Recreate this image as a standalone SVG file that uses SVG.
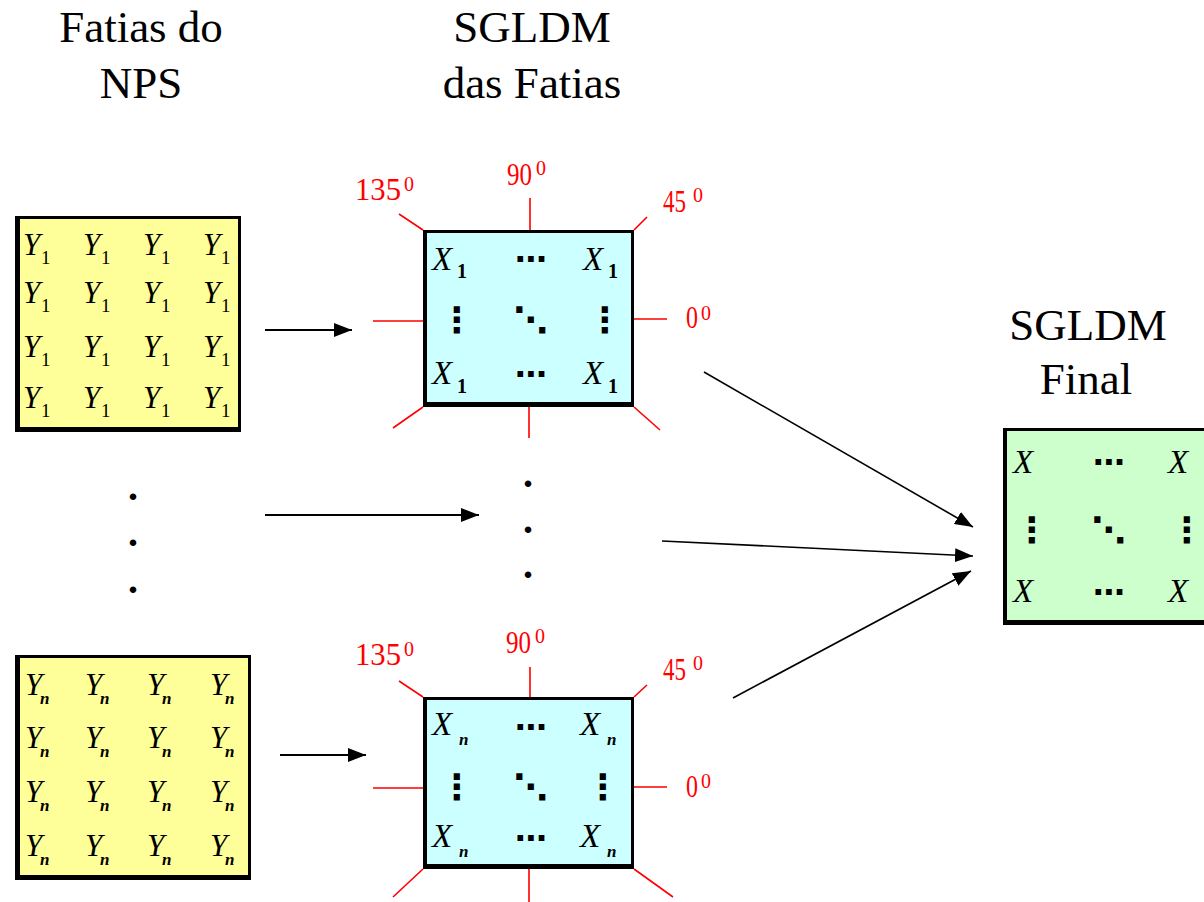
<svg xmlns="http://www.w3.org/2000/svg" width="1204" height="902" viewBox="0 0 1204 902">
<style>
.title{font-family:"Liberation Serif","Times New Roman",serif;font-size:45px;fill:#000;text-anchor:middle}
.ang{font-family:"Liberation Serif","Times New Roman",serif;font-size:31px;fill:#ff0000}
.sup{font-family:"Liberation Serif","Times New Roman",serif;font-size:20px;fill:#ff0000}
.var{font-family:"Liberation Serif","Times New Roman",serif;font-style:italic;fill:#000}
.y{font-size:31px}
.x{font-size:33px}
.sub{font-family:"Liberation Serif","Times New Roman",serif;font-size:19px;fill:#000}
.subx{font-family:"Liberation Serif","Times New Roman",serif;font-size:20px;font-weight:bold;fill:#000}
.subn{font-family:"Liberation Serif","Times New Roman",serif;font-style:italic;font-size:17px;font-weight:bold;fill:#000}
.dots{font-family:"DejaVu Sans",sans-serif;font-size:32px;font-weight:bold;fill:#000;text-anchor:middle}
.vd{font-family:"DejaVu Sans",sans-serif;font-size:35px;font-weight:bold;fill:#000;text-anchor:middle}
.pt{font-family:"Liberation Serif","Times New Roman",serif;font-size:40px;font-weight:bold;fill:#000;text-anchor:middle}
.red{stroke:#ff0000;stroke-width:1.6;fill:none}
.edge{stroke:#000;stroke-width:2;fill:none}
.frame{stroke:#000;stroke-width:3}
</style>
<defs>
<marker id="ah" markerUnits="userSpaceOnUse" markerWidth="20" markerHeight="16" refX="18" refY="7" orient="auto">
<path d="M0,0 L18,7 L0,14 z" fill="#000"/>
</marker>
</defs>
<rect width="1204" height="902" fill="#fff"/>

<g id="titles">
<text class="title" x="141" y="42">Fatias do</text>
<text class="title" x="141" y="98">NPS</text>
<text class="title" x="532" y="42">SGLDM</text>
<text class="title" x="532" y="98">das Fatias</text>
<text class="title" x="1088" y="340">SGLDM</text>
<text class="title" x="1086" y="394">Final</text>
</g>

<g id="slice1">
<rect x="16.5" y="217.5" width="223" height="213" fill="#ffff99" class="frame"/>
<rect x="15" y="216" width="5" height="216" fill="#000"/>
<rect x="15" y="427" width="226" height="5" fill="#000"/>
<g class="var y">
<text x="23" y="255">Y</text><text x="83" y="255">Y</text><text x="143" y="255">Y</text><text x="203" y="255">Y</text>
<text x="23" y="303">Y</text><text x="83" y="303">Y</text><text x="143" y="303">Y</text><text x="203" y="303">Y</text>
<text x="23" y="357">Y</text><text x="83" y="357">Y</text><text x="143" y="357">Y</text><text x="203" y="357">Y</text>
<text x="23" y="408">Y</text><text x="83" y="408">Y</text><text x="143" y="408">Y</text><text x="203" y="408">Y</text>
</g>
<g class="sub">
<text x="41" y="264">1</text><text x="101" y="264">1</text><text x="161" y="264">1</text><text x="221" y="264">1</text>
<text x="41" y="312">1</text><text x="101" y="312">1</text><text x="161" y="312">1</text><text x="221" y="312">1</text>
<text x="41" y="366">1</text><text x="101" y="366">1</text><text x="161" y="366">1</text><text x="221" y="366">1</text>
<text x="41" y="417">1</text><text x="101" y="417">1</text><text x="161" y="417">1</text><text x="221" y="417">1</text>
</g>
</g>

<g id="slice-dots">
<text class="pt" x="133" y="500">.</text>
<text class="pt" x="133" y="546">.</text>
<text class="pt" x="133" y="593">.</text>
</g>

<g id="sliceN">
<rect x="16.5" y="656.5" width="233" height="222" fill="#ffff99" class="frame"/>
<rect x="15" y="655" width="5" height="225" fill="#000"/>
<rect x="15" y="875" width="236" height="5" fill="#000"/>
<g class="var y">
<text x="25" y="695">Y</text><text x="85" y="695">Y</text><text x="147" y="695">Y</text><text x="210" y="695">Y</text>
<text x="25" y="748">Y</text><text x="85" y="748">Y</text><text x="147" y="748">Y</text><text x="210" y="748">Y</text>
<text x="25" y="802">Y</text><text x="85" y="802">Y</text><text x="147" y="802">Y</text><text x="210" y="802">Y</text>
<text x="25" y="856">Y</text><text x="85" y="856">Y</text><text x="147" y="856">Y</text><text x="210" y="856">Y</text>
</g>
<g class="subn">
<text x="40" y="704">n</text><text x="100" y="704">n</text><text x="162" y="704">n</text><text x="225" y="704">n</text>
<text x="40" y="757">n</text><text x="100" y="757">n</text><text x="162" y="757">n</text><text x="225" y="757">n</text>
<text x="40" y="811">n</text><text x="100" y="811">n</text><text x="162" y="811">n</text><text x="225" y="811">n</text>
<text x="40" y="865">n</text><text x="100" y="865">n</text><text x="162" y="865">n</text><text x="225" y="865">n</text>
</g>
</g>

<g id="sgldm1">
<path class="red" d="M530,198 V230 M634,319 H667 M373,321 H423 M399,214 L423,230 M634,230 L647,217 M423,407 L393,428 M529,407 V438 M634,407 L660,430"/>
<text class="ang" x="355" y="200" textLength="46" lengthAdjust="spacingAndGlyphs">135</text><text class="sup" x="404" y="191">0</text>
<text class="ang" x="507" y="185" textLength="25" lengthAdjust="spacingAndGlyphs">90</text><text class="sup" x="536" y="175">0</text>
<text class="ang" x="663" y="212" textLength="23" lengthAdjust="spacingAndGlyphs">45</text><text class="sup" x="693" y="202">0</text>
<text class="ang" x="686" y="328" textLength="12" lengthAdjust="spacingAndGlyphs">0</text><text class="sup" x="701" y="320">0</text>
<rect x="424.5" y="231.5" width="208" height="174" fill="#ccffff" class="frame" stroke-width="2"/>
<rect x="423" y="230" width="4" height="177" fill="#000"/>
<rect x="423" y="402" width="211" height="5" fill="#000"/>
<text class="var x" x="432" y="270">X</text><text class="subx" x="457" y="278">1</text>
<text class="var x" x="583" y="270">X</text><text class="subx" x="608" y="278">1</text>
<text class="var x" x="432" y="384">X</text><text class="subx" x="457" y="393">1</text>
<text class="var x" x="583" y="384">X</text><text class="subx" x="608" y="393">1</text>
<text class="dots" x="531" y="270">⋯</text>
<text class="dots" x="531" y="385">⋯</text>
<text class="vd" x="457" y="332">⋮</text>
<text class="vd" x="531" y="332">⋱</text>
<text class="vd" x="605" y="332">⋮</text>
</g>

<g id="sgldm-dots">
<text class="pt" x="528" y="487">.</text>
<text class="pt" x="528" y="533">.</text>
<text class="pt" x="528" y="578">.</text>
</g>

<g id="sgldmN">
<path class="red" d="M530,667 V697 M634,787 H667 M373,788 H423 M399,681 L423,697 M634,697 L647,685 M423,869 L393,897 M529,869 V902 M634,869 L673,897"/>
<text class="ang" x="355" y="665" textLength="46" lengthAdjust="spacingAndGlyphs">135</text><text class="sup" x="404" y="656">0</text>
<text class="ang" x="506" y="653" textLength="25" lengthAdjust="spacingAndGlyphs">90</text><text class="sup" x="535" y="643">0</text>
<text class="ang" x="663" y="680" textLength="23" lengthAdjust="spacingAndGlyphs">45</text><text class="sup" x="693" y="670">0</text>
<text class="ang" x="686" y="797" textLength="12" lengthAdjust="spacingAndGlyphs">0</text><text class="sup" x="701" y="788">0</text>
<rect x="424.5" y="698.5" width="208" height="169" fill="#ccffff" class="frame" stroke-width="2"/>
<rect x="423" y="697" width="4" height="172" fill="#000"/>
<rect x="423" y="864" width="211" height="5" fill="#000"/>
<text class="var x" x="432" y="735">X</text><text class="subn" x="459" y="745">n</text>
<text class="var x" x="580" y="735">X</text><text class="subn" x="607" y="745">n</text>
<text class="var x" x="432" y="847">X</text><text class="subn" x="459" y="857">n</text>
<text class="var x" x="580" y="847">X</text><text class="subn" x="607" y="857">n</text>
<text class="dots" x="531" y="738">⋯</text>
<text class="dots" x="531" y="849">⋯</text>
<text class="vd" x="457" y="799">⋮</text>
<text class="vd" x="531" y="799">⋱</text>
<text class="vd" x="603" y="799">⋮</text>
</g>

<g id="final">
<rect x="1004.5" y="429.5" width="210" height="194" fill="#ccffcc" class="frame" stroke-width="2"/>
<rect x="1003" y="428" width="4" height="197" fill="#000"/>
<rect x="1003" y="620" width="210" height="5" fill="#000"/>
<text class="var x" x="1013" y="473">X</text>
<text class="var x" x="1168" y="473">X</text>
<text class="var x" x="1013" y="602">X</text>
<text class="var x" x="1168" y="602">X</text>
<text class="dots" x="1109" y="473">⋯</text>
<text class="dots" x="1109" y="603">⋯</text>
<text class="vd" x="1032" y="542">⋮</text>
<text class="vd" x="1109" y="542">⋱</text>
<text class="vd" x="1187" y="542">⋮</text>
</g>

<g id="connectors" class="edge" marker-end="url(#ah)">
<line x1="265" y1="330" x2="352" y2="330"/>
<line x1="265" y1="515" x2="479" y2="515"/>
<line x1="280" y1="755" x2="366" y2="755"/>
<line x1="704" y1="372" x2="973" y2="527" stroke-width="1.6"/>
<line x1="662" y1="541" x2="973" y2="556" stroke-width="1.6"/>
<line x1="733" y1="698" x2="971" y2="571" stroke-width="1.6"/>
</g>
</svg>
